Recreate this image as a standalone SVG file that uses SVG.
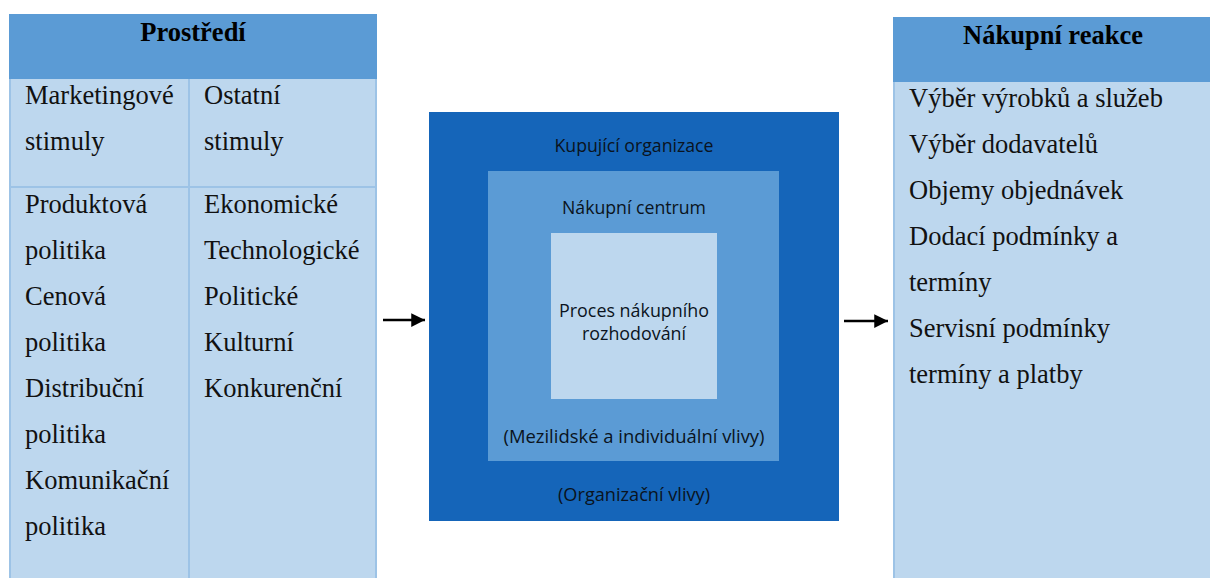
<svg xmlns="http://www.w3.org/2000/svg" width="1210" height="578" viewBox="0 0 1210 578">
<style>
.hdr{fill:#5B9BD5}
.body{fill:#BDD7EE}
.grid{stroke:#9DC3E6;stroke-width:2;fill:none}
.t{font-family:"Liberation Serif","Times New Roman",serif;font-size:26.5px;fill:#111}
.th{font-family:"Liberation Serif","Times New Roman",serif;font-size:26.5px;font-weight:bold;fill:#000;text-anchor:middle}
.c{font-family:"Open Sans","Noto Sans",sans-serif;font-size:17.5px;fill:#0a1320;text-anchor:middle}
.conn{stroke:#000;stroke-width:2.5;fill:none}
</style>
<defs>
<marker id="ah" viewBox="0 0 10 10" refX="10" refY="5" markerWidth="6.5" markerHeight="5.5" markerUnits="strokeWidth" orient="auto">
<path d="M0,0 L10,5 L0,10 Z" fill="#000"/>
</marker>
</defs>
<rect width="1210" height="578" fill="#fff"/>

<g id="prostredi">
<rect class="body" x="9" y="79" width="368" height="499"/>
<rect class="hdr" x="9" y="14" width="368" height="65"/>
<line class="grid" x1="10" y1="79" x2="10" y2="578"/>
<line class="grid" x1="376" y1="79" x2="376" y2="578"/>
<line class="grid" x1="189" y1="79" x2="189" y2="578"/>
<line class="grid" x1="10" y1="187" x2="376" y2="187"/>
<text class="th" x="193" y="41">Prostředí</text>
<text class="t" x="25" y="104">Marketingové</text>
<text class="t" x="25" y="150">stimuly</text>
<text class="t" x="204" y="104">Ostatní</text>
<text class="t" x="204" y="150">stimuly</text>
<text class="t" x="25" y="213">Produktová</text>
<text class="t" x="25" y="259">politika</text>
<text class="t" x="25" y="305">Cenová</text>
<text class="t" x="25" y="351">politika</text>
<text class="t" x="25" y="397">Distribuční</text>
<text class="t" x="25" y="443">politika</text>
<text class="t" x="25" y="489">Komunikační</text>
<text class="t" x="25" y="535">politika</text>
<text class="t" x="204" y="213">Ekonomické</text>
<text class="t" x="204" y="259">Technologické</text>
<text class="t" x="204" y="305">Politické</text>
<text class="t" x="204" y="351">Kulturní</text>
<text class="t" x="204" y="397">Konkurenční</text>
</g>

<g id="kupujici-organizace">
<rect x="429" y="112" width="410" height="409" fill="#1565B9"/>
<text class="c" x="634" y="152" textLength="159" lengthAdjust="spacingAndGlyphs">Kupující organizace</text>
<text class="c" x="634" y="501" textLength="152" lengthAdjust="spacingAndGlyphs">(Organizační vlivy)</text>
</g>

<g id="nakupni-centrum">
<rect x="488" y="171" width="291" height="290" fill="#5B9BD5"/>
<text class="c" x="634" y="214" textLength="144" lengthAdjust="spacingAndGlyphs">Nákupní centrum</text>
<text class="c" x="634" y="443" textLength="261" lengthAdjust="spacingAndGlyphs">(Mezilidské a individuální vlivy)</text>
</g>

<g id="proces">
<rect x="551" y="233" width="166" height="166" fill="#BDD7EE"/>
<text class="c" x="634" y="317" textLength="150" lengthAdjust="spacingAndGlyphs">Proces nákupního</text>
<text class="c" x="634" y="340" textLength="104" lengthAdjust="spacingAndGlyphs">rozhodování</text>
</g>

<g id="nakupni-reakce">
<rect class="body" x="893" y="82" width="317" height="496"/>
<rect class="hdr" x="893" y="17" width="317" height="65"/>
<line class="grid" x1="894" y1="82" x2="894" y2="578"/>
<text class="th" x="1053" y="44">Nákupní reakce</text>
<text class="t" x="909" y="107">Výběr výrobků a služeb</text>
<text class="t" x="909" y="153">Výběr dodavatelů</text>
<text class="t" x="909" y="199">Objemy objednávek</text>
<text class="t" x="909" y="245">Dodací podmínky a</text>
<text class="t" x="909" y="291">termíny</text>
<text class="t" x="909" y="337">Servisní podmínky</text>
<text class="t" x="909" y="383">termíny a platby</text>
</g>

<g id="connectors">
<line class="conn" x1="383" y1="320" x2="425" y2="320" marker-end="url(#ah)"/>
<line class="conn" x1="844" y1="321" x2="888" y2="321" marker-end="url(#ah)"/>
</g>
</svg>
